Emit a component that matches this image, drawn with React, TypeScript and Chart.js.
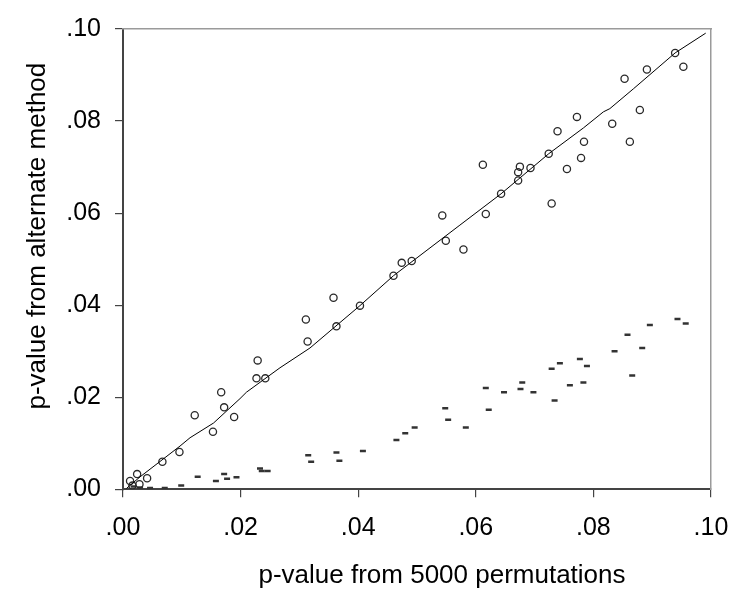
import React, { useEffect, useRef } from "react";
import { Chart, registerables } from "chart.js";

Chart.register(...registerables);

// Open circles: p-value from alternate method vs 5000 permutations
const circleX = [
  0.0012, 0.0024, 0.0041, 0.0028, 0.0016, 0.0067, 0.0096, 0.0122, 0.0153, 0.0167,
  0.0172, 0.0189, 0.0227, 0.0229, 0.0242, 0.0311, 0.0314, 0.0358, 0.0363, 0.0403,
  0.0460, 0.0474, 0.0491, 0.0543, 0.0549, 0.0579, 0.0612, 0.0617, 0.0643, 0.0672,
  0.0672, 0.0675, 0.0693, 0.0724, 0.0729, 0.0739, 0.0755, 0.0772, 0.0779, 0.0784,
  0.0832, 0.0853, 0.0862, 0.0879, 0.0891, 0.0939, 0.0953,
];
const circleY = [
  0.0018, 0.0033, 0.0024, 0.0011, 0.0008, 0.0060, 0.0081, 0.0161, 0.0125, 0.0211,
  0.0178, 0.0157, 0.0241, 0.0280, 0.0241, 0.0369, 0.0321, 0.0416, 0.0354, 0.0399,
  0.0464, 0.0492, 0.0496, 0.0595, 0.0540, 0.0521, 0.0705, 0.0598, 0.0642, 0.0671,
  0.0689, 0.0701, 0.0698, 0.0729, 0.0621, 0.0778, 0.0696, 0.0809, 0.0720, 0.0755,
  0.0794, 0.0892, 0.0755, 0.0824, 0.0912, 0.0948, 0.0918,
];

// Short dashes: second method
const dashX = [
  0.0018, 0.0029, 0.0046, 0.0071, 0.0099, 0.0127, 0.0158, 0.0172, 0.0177, 0.0193,
  0.0233, 0.0236, 0.0246, 0.0315, 0.0320, 0.0363, 0.0368, 0.0408, 0.0465, 0.0480,
  0.0496, 0.0548, 0.0553, 0.0583, 0.0617, 0.0622, 0.0648, 0.0676, 0.0679, 0.0698,
  0.0729, 0.0734, 0.0743, 0.0760, 0.0777, 0.0783, 0.0789, 0.0836, 0.0858, 0.0866,
  0.0883, 0.0896, 0.0943, 0.0957,
];
const dashY = [
  0.0006, 0.0004, 0.0003, 0.0003, 0.0008, 0.0027, 0.0018, 0.0033, 0.0023, 0.0026,
  0.0045, 0.0040, 0.0040, 0.0074, 0.0060, 0.0080, 0.0062, 0.0083, 0.0107, 0.0122,
  0.0134, 0.0176, 0.0151, 0.0134, 0.0220, 0.0173, 0.0211, 0.0218, 0.0232, 0.0211,
  0.0262, 0.0193, 0.0274, 0.0226, 0.0283, 0.0232, 0.0268, 0.0300, 0.0336, 0.0247,
  0.0307, 0.0357, 0.0370, 0.0360,
];

// Smooth fit line through the circles
const fitX = [
  0.0006, 0.0029, 0.0097, 0.0114, 0.0154, 0.0199, 0.0210, 0.0267, 0.0318, 0.0403,
  0.0460, 0.0573, 0.0643, 0.0724, 0.0783, 0.0817, 0.0828, 0.0868, 0.0939, 0.0991,
];
const fitY = [
  0.0002, 0.0027, 0.0094, 0.0112, 0.0144, 0.0197, 0.0211, 0.0264, 0.0307, 0.0399,
  0.0464, 0.0574, 0.0642, 0.0729, 0.0785, 0.0820, 0.0827, 0.0870, 0.0948, 0.0991,
];

const axisMin = 0;
const axisMax = 0.1;
const tickStep = 0.02;

const xTitle = "p-value from 5000 permutations";
const yTitle = "p-value from alternate method";

const FONT = "'Liberation Sans', Arial, sans-serif";

const fmt = (v: number | string) => Number(v).toFixed(2).replace(/^0/, "");

const axisTitlePlugin = {
  id: "axisTitles",
  afterDraw(chart: any) {
    const { ctx, chartArea } = chart;
    ctx.save();
    ctx.fillStyle = "#000";
    ctx.font = `26px ${FONT}`;
    ctx.textAlign = "center";
    ctx.textBaseline = "middle";
    const cx = (chartArea.left + chartArea.right) / 2 + 25;
    ctx.fillText(xTitle, cx, 576);
    ctx.translate(38, (chartArea.top + chartArea.bottom) / 2 - 23);
    ctx.rotate(-Math.PI / 2);
    ctx.fillText(yTitle, 0, 0);
    ctx.restore();
  },
};

export default function App() {
  const ref = useRef<HTMLCanvasElement | null>(null);

  useEffect(() => {
    document.body.style.margin = "0";
    if (!ref.current) return;
    const toPts = (xs: number[], ys: number[]) => xs.map((x, i) => ({ x, y: ys[i] }));
    const chart = new Chart(ref.current, {
      type: "scatter",
      data: {
        datasets: [
          {
            type: "line",
            data: toPts(fitX, fitY),
            borderColor: "#000",
            borderWidth: 1,
            pointRadius: 0,
            fill: false,
            tension: 0,
          } as any,
          {
            data: toPts(circleX, circleY),
            pointStyle: "circle",
            pointRadius: 3.6,
            borderWidth: 1.3,
            borderColor: "#2a2a2a",
            backgroundColor: "rgba(0,0,0,0)",
          },
          {
            data: toPts(dashX, dashY),
            pointStyle: "line",
            pointRadius: 3,
            borderWidth: 2.5,
            borderColor: "#333",
            backgroundColor: "#333",
          },
        ],
      },
      plugins: [axisTitlePlugin],
      options: {
        animation: false,
        responsive: false,
        maintainAspectRatio: false,
        layout: { padding: { top: 18.7, right: 29, left: 0, bottom: 0 } },
        plugins: { legend: { display: false }, tooltip: { enabled: false } },
        scales: {
          x: {
            type: "linear",
            position: "bottom",
            min: axisMin,
            max: axisMax,
            afterFit: (s: any) => {
              s.height = 105.7;
            },
            ticks: {
              stepSize: tickStep,
              callback: fmt,
              color: "#000",
              font: { family: FONT, size: 25, lineHeight: 1.7 },
              padding: 10,
              maxRotation: 0,
            },
            grid: { drawOnChartArea: false, drawTicks: true, tickLength: 8, color: "#444", lineWidth: 1.2 },
            border: { display: true, color: "#444", width: 2 },
            title: { display: false },
          },
          y: {
            type: "linear",
            position: "left",
            min: axisMin,
            max: axisMax,
            afterFit: (s: any) => {
              s.width = 123;
            },
            ticks: {
              stepSize: tickStep,
              callback: fmt,
              color: "#000",
              font: { family: FONT, size: 25 },
              padding: 14,
            },
            grid: { drawOnChartArea: false, drawTicks: true, tickLength: 8, color: "#444", lineWidth: 1.2 },
            border: { display: true, color: "#444", width: 2 },
            title: { display: false },
          },
          x2: {
            type: "linear",
            position: "top",
            min: axisMin,
            max: axisMax,
            afterFit: (s: any) => {
              s.height = 0;
            },
            ticks: { display: false },
            grid: { display: false, drawTicks: false },
            border: { display: true, color: "#9a9a9a", width: 1.5 },
          },
          y2: {
            type: "linear",
            position: "right",
            min: axisMin,
            max: axisMax,
            afterFit: (s: any) => {
              s.width = 0;
            },
            ticks: { display: false },
            grid: { display: false, drawTicks: false },
            border: { display: true, color: "#9a9a9a", width: 1.5 },
          },
        },
      } as any,
    });
    return () => chart.destroy();
  }, []);

  return (
    <div style={{ position: "relative", width: 740, height: 595, background: "#fff" }}>
      <canvas ref={ref} width={740} height={595} style={{ display: "block", width: 740, height: 595 }} />
    </div>
  );
}
